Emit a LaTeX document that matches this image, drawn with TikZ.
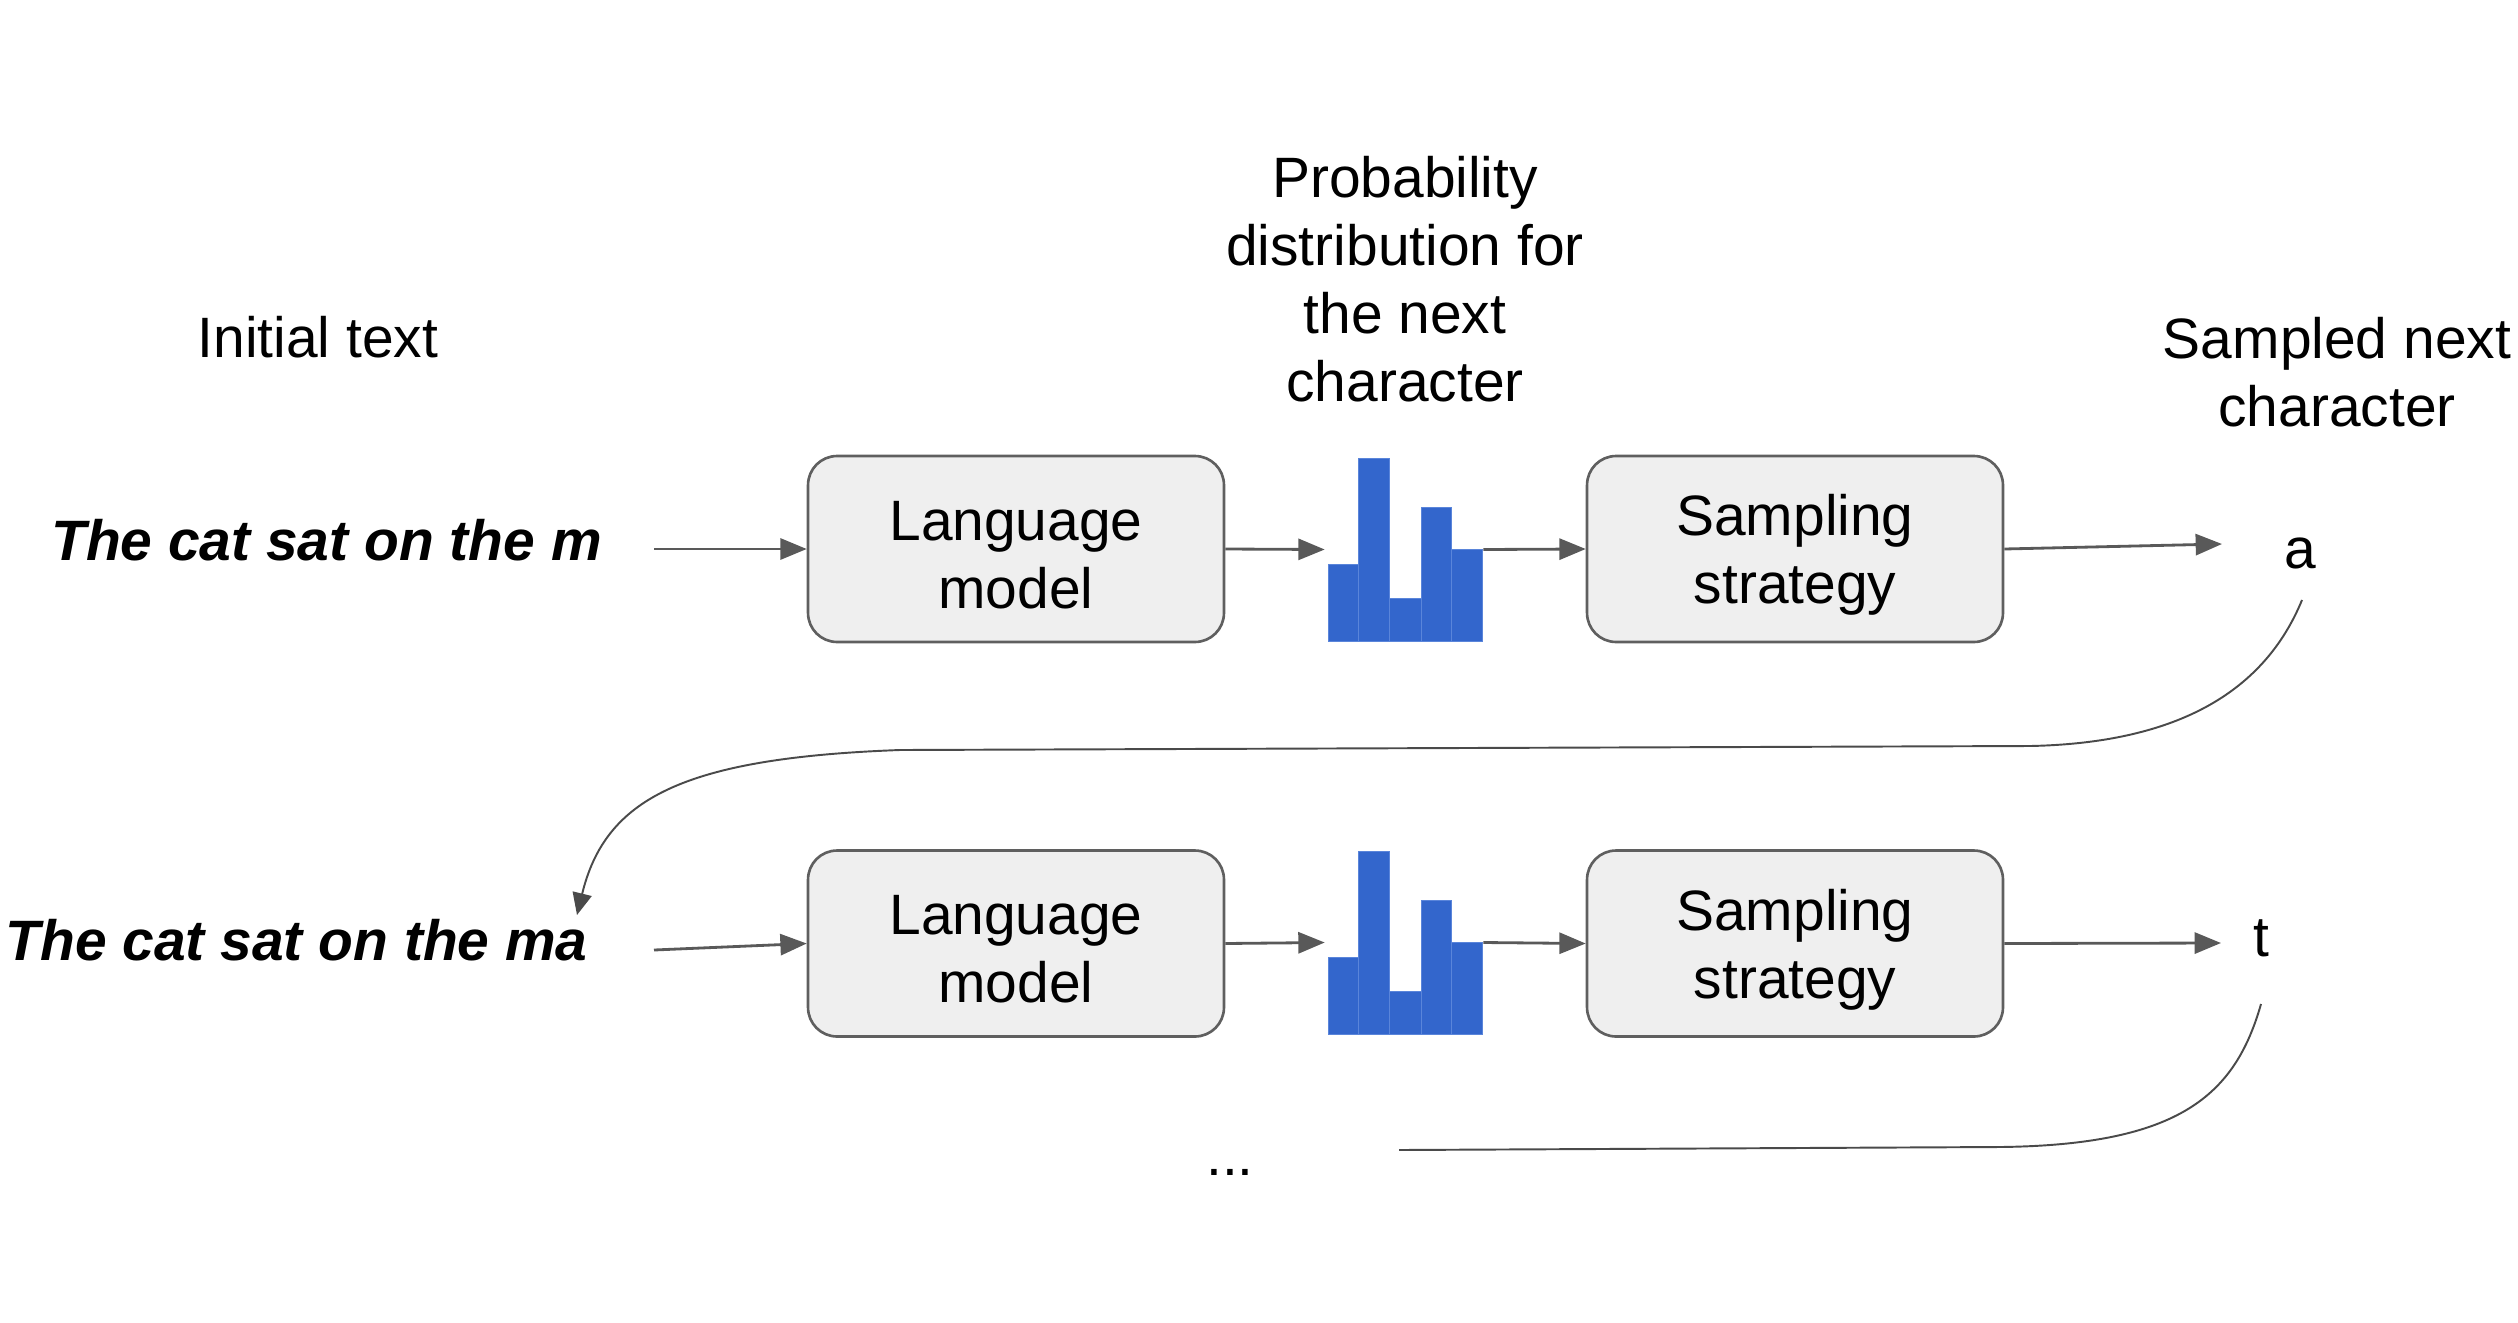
\documentclass[tikz,border=0pt]{standalone}
\usepackage{fontspec}
\setmainfont{Liberation Sans}
\usetikzlibrary{arrows.meta}
\definecolor{boxfill}{HTML}{EFEFEF}
\definecolor{boxline}{HTML}{5F5F5F}
\definecolor{arr}{HTML}{595959}
\definecolor{loopcol}{HTML}{4A4A4A}
\definecolor{barblue}{HTML}{3366CC}
\definecolor{barsep}{HTML}{5A85DA}
\newcommand\mybars{%
  \foreach \a/\b/\h in {0/30/77, 30/61/183, 61/93/43, 93/123/134, 123/154/92}
    {\path[bar] (\a,0) rectangle (\b,-\h);}}
\begin{document}
\begin{tikzpicture}[x=0.02cm,y=-0.02cm,
  every node/.style={font=\fontsize{32.4}{38.6}\selectfont, inner sep=0pt},
  lbox/.style={draw=boxline, fill=boxfill, line width=1.5pt, rounded corners=0.58cm,
    minimum width=8.32cm, minimum height=3.72cm},
  boxtext/.style={align=center, yshift=-0.12cm},
  flow/.style={draw=arr, line width=1.6pt, -{Triangle[length=15pt,width=12pt]}},
  loopline/.style={draw=loopcol, line width=1.1pt},
  loopflow/.style={loopline, -{Triangle[length=12.5pt,width=11pt]}},
  lbl/.style={align=center},
  inputtext/.style={anchor=east, font=\fontsize{32.4}{38.6}\selectfont\bfseries\itshape},
  bar/.style={fill=barblue, draw=barsep, line width=0.6pt},
  chart/.style={minimum width=3.08cm, minimum height=3.66cm},
]
\useasboundingbox (0,0) rectangle (2518,1322);

% labels
\node[lbl] (init) at (318,337) {Initial text};
\node[lbl] (prob) at (1405,279) {Probability\\distribution for\\the next\\character};
\node[lbl] (samp) at (2337,372) {Sampled next\\character};

% row 1
\node[inputtext] (txt1) at (602,540) {The cat sat on the m};
\node[lbox, label={[boxtext]center:{Language\\model}}] (lm1) at (1016,549) {};
\node[chart] (pd1) at (1406,549.5) {};
\begin{scope}[shift={(pd1.south west)}]\mybars\end{scope}
\node[lbox, label={[boxtext]center:{Sampling\\strategy}}] (ss1) at (1795,549) {};
\node (a1) at (2300,553) {a};
\coordinate (in1) at (654,549);
\coordinate (a1in) at (2222,544);
\coordinate (a1out) at (2302,600);

\draw[flow] (in1) -- (lm1.west);
\draw[flow] (lm1.east) -- ([xshift=-0.08cm]pd1.west);
\draw[flow] (pd1.east) -- (ss1.west);
\draw[flow] (ss1.east) -- (a1in);

% row 2
\node[inputtext] (txt2) at (588,940) {The cat sat on the ma};
\node[lbox, label={[boxtext]center:{Language\\model}}] (lm2) at (1016,943.5) {};
\node[chart] (pd2) at (1406,942.5) {};
\begin{scope}[shift={(pd2.south west)}]\mybars\end{scope}
\node[lbox, label={[boxtext]center:{Sampling\\strategy}}] (ss2) at (1795,943.5) {};
\node (t2) at (2261,938) {t};
\coordinate (in2) at (654,950);
\coordinate (t2in) at (2221,943);
\coordinate (t2out) at (2261,1004);
\coordinate (ma) at (577,915);

\draw[flow] (in2) -- (lm2.west);
\draw[flow] (lm2.east) -- ([xshift=-0.08cm]pd2.west);
\draw[flow] (pd2.east) -- (ss2.west);
\draw[flow] (ss2.east) -- (t2in);

% feedback curves
\draw[loopflow] (a1out) .. controls (2265,690) and (2180,743) .. (2030,746)
  -- (900,750) .. controls (680,758) and (605,800) .. (ma);
\coordinate (cont) at (1399,1150);
\draw[loopline] (t2out) .. controls (2235,1095) and (2180,1145) .. (2000,1147) -- (cont);

\node (dots) at (1230,1172) {...};
\end{tikzpicture}
\end{document}
